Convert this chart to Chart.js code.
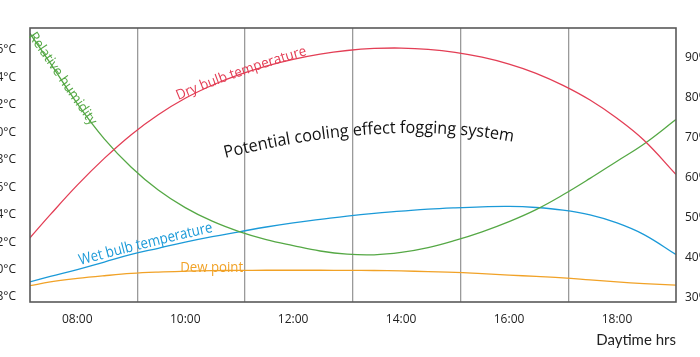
<!DOCTYPE html>
<html>
<head>
<meta charset="utf-8">
<script src="https://cdn.jsdelivr.net/npm/chart.js@4"></script>
<style>
  html, body { margin: 0; padding: 0; background: #fff; overflow: hidden; width: 700px; height: 357px; }
  #wrap { position: absolute; left: -20px; top: 0; width: 730px; height: 357px; }
</style>
</head>
<body>
<div id="wrap"><canvas id="c"></canvas></div>
<script>
// ---- data ----
const hours      = [7.12, 7.5, 8, 8.5, 9, 9.5, 10, 10.5, 11, 11.5, 12, 12.5, 13, 13.5, 14, 14.5, 15, 15.5, 16, 16.5, 17, 17.5, 18, 18.5, 19.09];
const dryBulb    = [22.3, 24.0, 26.15, 28.1, 29.83, 31.28, 32.48, 33.43, 34.2, 34.83, 35.32, 35.7, 35.96, 36.11, 36.14, 36.05, 35.83, 35.47, 34.97, 34.3, 33.42, 32.35, 31.02, 29.42, 26.94];
const wetBulb    = [19.1, 19.5, 20.0, 20.55, 21.1, 21.55, 22.0, 22.4, 22.75, 23.1, 23.4, 23.65, 23.9, 24.1, 24.25, 24.4, 24.5, 24.57, 24.6, 24.52, 24.33, 23.98, 23.4, 22.55, 21.1];
const dewPoint   = [18.82, 19.1, 19.35, 19.55, 19.72, 19.82, 19.88, 19.92, 19.94, 19.95, 19.95, 19.95, 19.94, 19.93, 19.9, 19.85, 19.8, 19.7, 19.6, 19.5, 19.4, 19.25, 19.1, 18.98, 18.87];
const humidity   = [96.2, 88.7, 78.6, 69.8, 62.7, 57.0, 52.6, 49.2, 46.6, 44.6, 43.1, 41.75, 40.95, 40.8, 41.4, 42.6, 44.4, 46.55, 49.1, 52.1, 55.8, 59.9, 64.2, 68.5, 74.6];
const labelHours = [8, 10, 12, 14, 16, 18];
const gridHours  = [9.11, 11.11, 13.11, 15.11, 17.11];
const tempTicks  = [18, 20, 22, 24, 26, 28, 30, 32, 34, 36];
const humTicks   = [30, 40, 50, 60, 70, 80, 90];
const xTitle     = 'Daytime hrs';
const mainText   = 'Potential cooling effect fogging system';

const toPts = arr => arr.map((v, i) => ({ x: hours[i], y: v }));

const RED = '#e33e55', GREEN = '#55a845', BLUE = '#1b9ad8', ORANGE = '#f1a227';

// text along a quadratic curve (anchors in data coords of x / y axes)
function textOnCurve(chart, text, a, font, color) {
  const ctx = chart.ctx, xs = chart.scales.x, ys = chart.scales.y;
  const P = a.map(p => ({ x: xs.getPixelForValue(p[0]), y: ys.getPixelForValue(p[1]) }));
  const q = t => ({
    x: (1 - t) * (1 - t) * P[0].x + 2 * (1 - t) * t * P[1].x + t * t * P[2].x,
    y: (1 - t) * (1 - t) * P[0].y + 2 * (1 - t) * t * P[1].y + t * t * P[2].y
  });
  const N = 300, pts = [], cum = [0];
  for (let i = 0; i <= N; i++) pts.push(q(i / N));
  for (let i = 1; i <= N; i++) cum.push(cum[i - 1] + Math.hypot(pts[i].x - pts[i - 1].x, pts[i].y - pts[i - 1].y));
  const total = cum[N];
  ctx.save();
  ctx.font = font;
  ctx.fillStyle = color;
  ctx.textBaseline = 'alphabetic';
  ctx.textAlign = 'center';
  const w = ctx.measureText(text).width;
  const sx = total / w;
  let s = 0;
  for (const ch of text) {
    const cw = ctx.measureText(ch).width * sx;
    const mid = s + cw / 2;
    let i = 1;
    while (i < N && cum[i] < mid) i++;
    const f = (mid - cum[i - 1]) / Math.max(1e-6, cum[i] - cum[i - 1]);
    const x = pts[i - 1].x + (pts[i].x - pts[i - 1].x) * f;
    const y = pts[i - 1].y + (pts[i].y - pts[i - 1].y) * f;
    const ang = Math.atan2(pts[i].y - pts[i - 1].y, pts[i].x - pts[i - 1].x);
    ctx.save();
    ctx.translate(x, y);
    ctx.rotate(ang);
    ctx.scale(sx, 1);
    ctx.fillText(ch, 0, 0);
    ctx.restore();
    s += cw;
  }
  ctx.restore();
}

const annotations = {
  id: 'annotations',
  afterDatasetsDraw(chart) {
    const ctx = chart.ctx, a = chart.chartArea;
    // frame
    ctx.save();
    ctx.strokeStyle = '#595959';
    ctx.lineWidth = 1.6;
    ctx.strokeRect(a.left, a.top, a.right - a.left, a.bottom - a.top);
    ctx.restore();
    textOnCurve(chart, 'Relative humidity', [[7.093, 37.02], [7.63, 33.89], [8.241, 30.46]], '14px "Open Sans"', GREEN);
    textOnCurve(chart, 'Dry bulb temperature', [[9.87, 32.36], [11.02, 34.25], [12.26, 35.64]], '14px "Open Sans"', RED);
    textOnCurve(chart, 'Wet bulb temperature', [[8.056, 20.33], [9.278, 21.64], [10.519, 22.74]], '15px "Open Sans"', BLUE);
    textOnCurve(chart, 'Dew point', [[9.907, 19.82], [10.49, 19.82], [11.074, 19.82]], '15px "Open Sans"', ORANGE);
    textOnCurve(chart, mainText, [[10.741, 28.13], [13.704, 31.05], [16.074, 29.30]], '17px "Open Sans"', '#111');
  }
};

const lineDs = (label, data, color, axis) => ({
  label, data: toPts(data), yAxisID: axis,
  borderColor: color, backgroundColor: color, borderWidth: 1.3,
  pointRadius: 0, fill: false, tension: 0.4
});

const tickFont = { family: '"Liberation Sans Narrow", "Open Sans", sans-serif', size: 12 };
const isLabel = v => labelHours.includes(v);

new Chart(document.getElementById('c'), {
  type: 'line',
  data: {
    datasets: [
      lineDs('Dry bulb temperature', dryBulb, RED, 'y'),
      lineDs('Relative humidity', humidity, GREEN, 'y1'),
      lineDs('Wet bulb temperature', wetBulb, BLUE, 'y'),
      lineDs('Dew point', dewPoint, ORANGE, 'y')
    ]
  },
  options: {
    responsive: true,
    maintainAspectRatio: false,
    animation: false,
    layout: { padding: { top: 28, left: 0, right: 0, bottom: 0 } },
    plugins: { legend: { display: false }, tooltip: { enabled: false } },
    scales: {
      x: {
        type: 'linear', min: 7.124, max: 19.093,
        afterBuildTicks: s => {
          s.ticks = labelHours.concat(gridHours).sort((a, b) => a - b).map(v => ({ value: v }));
        },
        afterFit: s => { s.height = 55; },
        border: { display: false },
        grid: {
          drawTicks: false,
          color: c => (c.tick && !isLabel(c.tick.value)) ? '#9a9a9a' : 'rgba(0,0,0,0)',
          lineWidth: 1.3
        },
        ticks: {
          padding: 10, color: '#222', font: tickFont, maxRotation: 0, autoSkip: false,
          callback: v => isLabel(v) ? String(v).padStart(2, '0') + ':00' : ''
        },
        title: {
          display: true, text: xTitle, align: 'end', color: '#222',
          font: { family: 'Lato, "Open Sans", sans-serif', size: 15 },
          padding: { top: 0, bottom: 8 }
        }
      },
      y: {
        position: 'left', min: 17.636, max: 37.60,
        afterBuildTicks: s => { s.ticks = tempTicks.map(v => ({ value: v })); },
        afterFit: s => { s.width = 50; },
        border: { display: false },
        grid: { display: false, drawTicks: false },
        ticks: { padding: 14, color: '#222', font: tickFont, callback: v => v + '°C' }
      },
      y1: {
        position: 'right', min: 29, max: 97.5,
        afterBuildTicks: s => { s.ticks = humTicks.map(v => ({ value: v })); },
        afterFit: s => { s.width = 34; },
        border: { display: false },
        grid: { display: false, drawTicks: false },
        ticks: { padding: 9, color: '#222', font: tickFont, callback: v => v + '%' }
      }
    }
  },
  plugins: [annotations]
});
</script>
</body>
</html>
